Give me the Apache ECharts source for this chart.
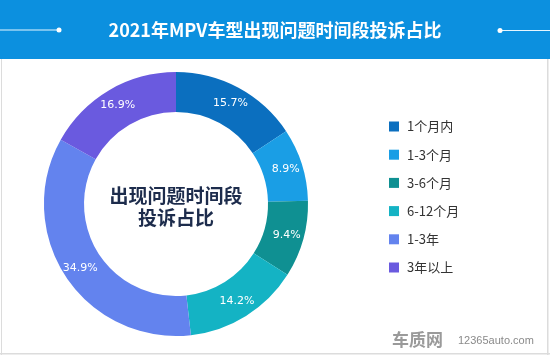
<!DOCTYPE html>
<html>
<head>
<meta charset="utf-8">
<script src="https://cdn.jsdelivr.net/npm/echarts@6/dist/echarts.min.js"></script>
<style>html,body{margin:0;padding:0;background:#fff}#c{width:550px;height:356px}</style>
</head>
<body>
<div id="c"></div>
<script>
const categories = ['1个月内', '1-3个月', '3-6个月', '6-12个月', '1-3年', '3年以上'];
const values = [15.7, 8.9, 9.4, 14.2, 34.9, 16.9];
const colors = ['#0b6fbf', '#1a9ee5', '#0f9092', '#14b3c4', '#6383ee', '#6a5adf'];
const titleText = '2021年MPV车型出现问题时间段投诉占比';
const centerText = '出现问题时间段\n投诉占比';

const chart = echarts.init(document.getElementById('c'), null, {renderer: 'canvas'});
const font = '"Noto Sans CJK SC", "Noto Sans", sans-serif';
chart.setOption({
  animation: false,
  color: colors,
  graphic: [
    {type: 'rect', shape: {x: 0, y: 0, width: 550, height: 59}, style: {fill: '#0c90df'}},
    {type: 'rect', shape: {x: 1, y: 59, width: 1, height: 296}, style: {fill: '#dcdcdc'}},
    {type: 'rect', shape: {x: 547, y: 59, width: 1.5, height: 296}, style: {fill: '#dcdcdc'}},
    {type: 'rect', shape: {x: 0, y: 353, width: 550, height: 1.5}, style: {fill: '#dcdcdc'}},
    {type: 'line', shape: {x1: 0, y1: 30, x2: 58, y2: 30}, style: {stroke: '#e6f6ff', lineWidth: 1}},
    {type: 'circle', shape: {cx: 59, cy: 30, r: 2.5}, style: {fill: '#ffffff'}},
    {type: 'line', shape: {x1: 500, y1: 30.5, x2: 550, y2: 30.5}, style: {stroke: '#e6f6ff', lineWidth: 1}},
    {type: 'circle', shape: {cx: 500, cy: 30.5, r: 2.5}, style: {fill: '#ffffff'}},
    {type: 'text', x: 275, y: 30, style: {text: titleText, fill: '#ffffff', font: 'bold 18px ' + font, textAlign: 'center', textVerticalAlign: 'middle'}},
    {type: 'text', x: 176, y: 207, style: {text: centerText, fill: '#1d2c4c', font: 'bold 19px ' + font, textAlign: 'center', textVerticalAlign: 'middle', lineHeight: 22}},
    {type: 'text', x: 392, y: 340, style: {text: '车质网', fill: '#9a9a9a', font: 'bold 17px ' + font, textVerticalAlign: 'middle'}},
    {type: 'text', x: 458, y: 341, style: {text: '12365auto.com', fill: '#8a8a8a', font: '11px "Liberation Sans", sans-serif', textVerticalAlign: 'middle'}}
  ],
  legend: {
    orient: 'vertical',
    left: 384,
    top: 115,
    itemWidth: 10,
    itemHeight: 10,
    itemGap: 15.2,
    icon: 'rect',
    data: categories,
    textStyle: {fontSize: 13, color: '#333', fontFamily: font, padding: [0, 0, 0, 3]}
  },
  series: [{
    type: 'pie',
    center: [176, 204],
    radius: [92, 132],
    startAngle: 90,
    clockwise: true,
    avoidLabelOverlap: false,
    silent: true,
    label: {
      show: true,
      position: 'inside',
      formatter: p => p.value.toFixed(1) + '%',
      color: '#ffffff',
      fontSize: 11,
      fontFamily: '"DejaVu Sans", sans-serif'
    },
    labelLine: {show: false},
    itemStyle: {borderWidth: 0},
    data: categories.map((c, i) => ({name: c, value: values[i]}))
  }]
});
</script>
</body>
</html>
